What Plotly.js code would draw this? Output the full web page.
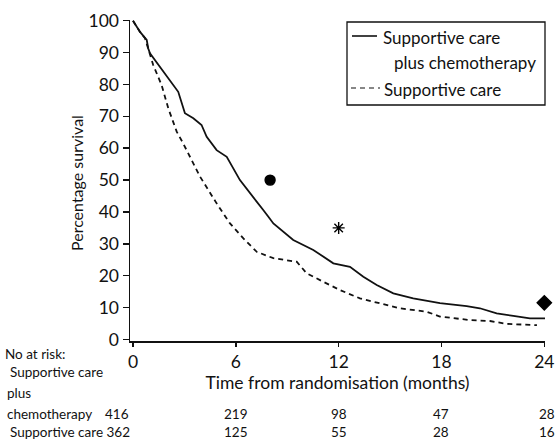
<!DOCTYPE html>
<html>
<head>
<meta charset="utf-8">
<script src="https://cdn.plot.ly/plotly-3.0.1.min.js"></script>
<style>html,body{margin:0;padding:0;background:#fff;}#chart{width:555px;height:445px;}</style>
</head>
<body>
<div id="chart"></div>
<script>
// ---- data ----
const chemoMonths = [0, 0.41, 0.8, 0.89, 0.99, 1.48, 2.06, 2.64, 3.03, 3.52, 4.0, 4.3, 4.88, 5.47, 6.24, 7.02, 7.6, 7.9, 8.19, 9.35, 10.52, 11.69, 12.66, 13.44, 14.22, 15.19, 16.35, 17.91, 19.47, 20.24, 21.22, 22.19, 23.16, 24.04];
const chemoSurvival = [100, 96.5, 94, 91.3, 89.8, 86.1, 81.9, 77.7, 71.0, 69.4, 67.3, 63.6, 59.4, 57.3, 50.0, 44.8, 40.6, 38.5, 36.4, 31.2, 28.1, 23.9, 22.8, 19.7, 17.1, 14.5, 12.9, 11.4, 10.5, 9.8, 8.2, 7.4, 6.6, 6.6];
const suppMonths = [0, 0.41, 0.7, 1.18, 1.67, 2.06, 2.55, 2.93, 3.91, 4.88, 5.66, 6.44, 7.22, 8.19, 9.55, 10.13, 11.1, 12.08, 13.24, 14.41, 15.58, 17.14, 17.91, 19.66, 20.83, 21.8, 23.57];
const suppSurvival = [100, 96.5, 94.5, 86.1, 79.8, 72.5, 65.2, 61.5, 51.1, 42.7, 36.4, 31.7, 27.5, 25.5, 24.4, 20.8, 18.1, 15.5, 12.9, 11.4, 9.8, 8.7, 7.2, 6.1, 5.8, 4.9, 4.5];
const symbolMonths = [8, 12, 24];
const symbolValues = [50, 35, 11.5];
const symbolShapes = ['circle', 'asterisk-open', 'diamond'];
const tickMonths = [0, 6, 12, 18, 24];
const tickLabels = ['0', '6', '12', '18', '24'];
const yTicks = [0, 10, 20, 30, 40, 50, 60, 70, 80, 90, 100];
const atRiskChemo = [416, 219, 98, 47, 28];
const atRiskSupp = [362, 125, 55, 28, 16];
const seriesNames = ['Supportive care', 'plus chemotherapy', 'Supportive care'];
const tableLabels = ['No at risk:', 'Supportive care', 'plus', 'chemotherapy', 'Supportive care'];

// ---- layout geometry (pixels) ----
const L = 130, R = 10, T = 20, B = 104, Wd = 555, Ht = 445;
const PW = Wd - L - R, PH = Ht - T - B;
const px2x = p => (p - L) / PW;
const py2y = p => (Ht - B - p) / PH;
const FONT = 'Lato, "Open Sans", sans-serif';

const traces = [
  {x: chemoMonths, y: chemoSurvival, mode: 'lines',
   line: {color: '#111', width: 1.8}, hoverinfo: 'skip'},
  {x: suppMonths, y: suppSurvival, mode: 'lines',
   line: {color: '#111', width: 1.8, dash: '5px,4px'}, hoverinfo: 'skip'},
  {x: symbolMonths, y: symbolValues, mode: 'markers', cliponaxis: false,
   marker: {symbol: symbolShapes, size: [10, 10, 11], color: '#000', opacity: 1,
            line: {color: '#000', width: 1.4}}, hoverinfo: 'skip'}
];

const annotations = [];
function ann(text, px, py, xanchor, size, extra) {
  annotations.push(Object.assign({text: text, xref: 'paper', yref: 'paper',
    x: px2x(px), y: py2y(py), xanchor: xanchor, yanchor: 'middle', showarrow: false,
    font: {family: FONT, size: size, color: '#111'}}, extra || {}));
}
// y axis title
ann('Percentage survival', 77, 183, 'center', 16, {textangle: -90});
// legend text
ann(seriesNames[0], 381, 37, 'left', 17);
ann(seriesNames[1], 392, 62, 'left', 17);
ann(seriesNames[2], 382, 89, 'left', 17);
// at-risk table
ann(tableLabels[0], 3, 354, 'left', 13.5);
ann(tableLabels[1], 8, 372, 'left', 13.5);
ann(tableLabels[2], 5, 393, 'left', 13.5);
ann(tableLabels[3], 5, 414, 'left', 13.5);
ann(tableLabels[4] + ' ' + atRiskSupp[0], 8, 432, 'left', 13.5);
for (let i = 0; i < tickMonths.length; i++) {
  const xa = i === 0 ? 'right' : 'center';
  const dx = i === 0 ? -2 : (i === tickMonths.length - 1 ? 3 : 0);
  annotations.push({text: String(atRiskChemo[i]), xref: 'x', yref: 'paper',
    x: tickMonths[i], xshift: dx, y: py2y(414), xanchor: xa, yanchor: 'middle', showarrow: false,
    font: {family: FONT, size: 13.5, color: '#111'}});
  if (i > 0) {
    annotations.push({text: String(atRiskSupp[i]), xref: 'x', yref: 'paper',
      x: tickMonths[i], xshift: dx, y: py2y(432), xanchor: xa, yanchor: 'middle', showarrow: false,
      font: {family: FONT, size: 13.5, color: '#111'}});
  }
}

const shapes = [
  {type: 'rect', xref: 'paper', yref: 'paper', x0: px2x(347), x1: px2x(545), y0: py2y(22), y1: py2y(105),
   line: {color: '#111', width: 1.3}},
  {type: 'line', xref: 'paper', yref: 'paper', x0: px2x(352), x1: px2x(377), y0: py2y(36), y1: py2y(36),
   line: {color: '#111', width: 1.6}},
  {type: 'line', xref: 'paper', yref: 'paper', x0: px2x(351), x1: px2x(380), y0: py2y(88), y1: py2y(88),
   line: {color: '#111', width: 1.2, dash: '5px,4px'}}
];

const layout = {
  width: Wd, height: Ht,
  margin: {l: L, r: R, t: T, b: B, pad: 0},
  paper_bgcolor: '#fff', plot_bgcolor: '#fff',
  showlegend: false,
  font: {family: FONT, color: '#111'},
  xaxis: {range: [-0.175, 24.04], tickvals: tickMonths, ticktext: tickLabels,
          showline: true, linecolor: '#111', linewidth: 1.5, ticks: 'outside', ticklen: 4,
          tickwidth: 1.5, tickcolor: '#111', showgrid: false, zeroline: false,
          tickfont: {family: FONT, size: 17.5, color: '#111'},
          title: {text: 'Time from randomisation (months)', font: {family: FONT, size: 17.5, color: '#111'}, standoff: 6}},
  yaxis: {range: [-0.47, 100.22], tickvals: yTicks,
          showline: true, linecolor: '#111', linewidth: 1.5, ticks: 'outside', ticklen: 6,
          tickwidth: 1.5, tickcolor: '#111', showgrid: false, zeroline: false,
          tickfont: {family: FONT, size: 17.5, color: '#111'}},
  annotations: annotations,
  shapes: shapes
};

Plotly.newPlot('chart', traces, layout, {staticPlot: true, displayModeBar: false});
</script>
</body>
</html>
